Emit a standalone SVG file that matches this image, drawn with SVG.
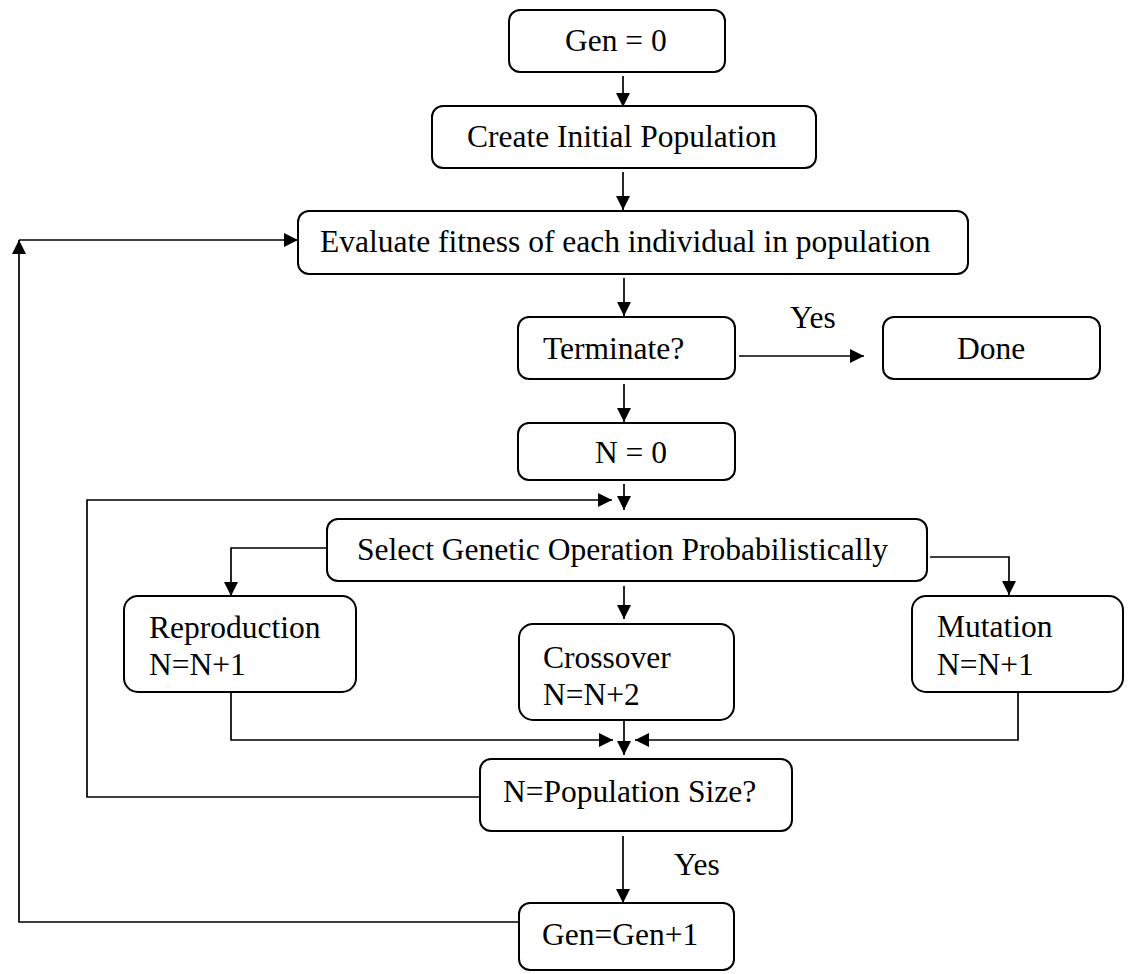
<svg xmlns="http://www.w3.org/2000/svg" width="1132" height="974" viewBox="0 0 1132 974">
  <style>
    .box { fill: #ffffff; stroke: #000000; stroke-width: 2; }
    .lbl { font-family: "Liberation Serif", "Times New Roman", serif; font-size: 31.5px; fill: #000000; }
    .wire { fill: none; stroke: #000000; stroke-width: 1.7; }
    .arr { marker-end: url(#head); }
  </style>
  <defs>
    <marker id="head" markerUnits="userSpaceOnUse" viewBox="0 0 14 14" refX="14" refY="7" markerWidth="14" markerHeight="14" orient="auto">
      <path d="M0,0 L14,7 L0,14 z" fill="#000000"/>
    </marker>
  </defs>

  <rect width="1132" height="974" fill="#ffffff"/>

  <!-- connectors -->
  <g id="connectors">
    <path class="wire arr" d="M623,76 V107"/>
    <path class="wire arr" d="M623,172 V210"/>
    <path class="wire arr" d="M624,278 V316"/>
    <path class="wire arr" d="M739,356 H864"/>
    <path class="wire arr" d="M624,384 V422"/>
    <path class="wire arr" d="M624,484 V510"/>
    <path class="wire arr" d="M480,797 H87 V500 H612"/>
    <path class="wire arr" d="M327,548 H231 V596"/>
    <path class="wire arr" d="M624,586 V619"/>
    <path class="wire arr" d="M930,557 H1009 V595"/>
    <path class="wire arr" d="M231,692 V740 H613"/>
    <path class="wire arr" d="M624,720 V755"/>
    <path class="wire arr" d="M1018,692 V740 H635"/>
    <path class="wire arr" d="M623,836 V903"/>
    <path class="wire arr" d="M519,922 H19 V240"/>
    <path class="wire arr" d="M19,240 H298"/>
    <text class="lbl" x="790" y="328">Yes</text>
    <text class="lbl" x="674" y="875">Yes</text>
  </g>

  <g id="gen0">
    <rect class="box" x="509" y="10" width="216" height="62" rx="11"/>
    <text class="lbl" x="565" y="51">Gen = 0</text>
  </g>

  <g id="create">
    <rect class="box" x="432" y="106" width="384" height="62" rx="11"/>
    <text class="lbl" x="467" y="147">Create Initial Population</text>
  </g>

  <g id="evaluate">
    <rect class="box" x="298" y="211" width="670" height="63" rx="11"/>
    <text class="lbl" x="320" y="252">Evaluate fitness of each individual in population</text>
  </g>

  <g id="terminate">
    <rect class="box" x="518" y="317" width="217" height="62" rx="11"/>
    <text class="lbl" x="543" y="359">Terminate?</text>
  </g>

  <g id="done">
    <rect class="box" x="883" y="317" width="217" height="62" rx="11"/>
    <text class="lbl" x="957" y="359">Done</text>
  </g>

  <g id="n0">
    <rect class="box" x="518" y="423" width="217" height="57" rx="11"/>
    <text class="lbl" x="595" y="463">N = 0</text>
  </g>

  <g id="select">
    <rect class="box" x="327" y="519" width="600" height="62" rx="11"/>
    <text class="lbl" x="357" y="560">Select Genetic Operation Probabilistically</text>
  </g>

  <g id="reproduction">
    <rect class="box" x="124" y="596" width="232" height="96" rx="14"/>
    <text class="lbl" x="149" y="638">Reproduction</text>
    <text class="lbl" x="149" y="675">N=N+1</text>
  </g>

  <g id="crossover">
    <rect class="box" x="519" y="624" width="215" height="96" rx="14"/>
    <text class="lbl" x="543" y="668">Crossover</text>
    <text class="lbl" x="543" y="705">N=N+2</text>
  </g>

  <g id="mutation">
    <rect class="box" x="912" y="596" width="211" height="96" rx="14"/>
    <text class="lbl" x="937" y="637">Mutation</text>
    <text class="lbl" x="937" y="675">N=N+1</text>
  </g>

  <g id="popsize">
    <rect class="box" x="480" y="759" width="312" height="72" rx="11"/>
    <text class="lbl" x="503" y="802">N=Population Size?</text>
  </g>

  <g id="nextgen">
    <rect class="box" x="519" y="903" width="215" height="67" rx="11"/>
    <text class="lbl" x="542" y="945">Gen=Gen+1</text>
  </g>
</svg>
